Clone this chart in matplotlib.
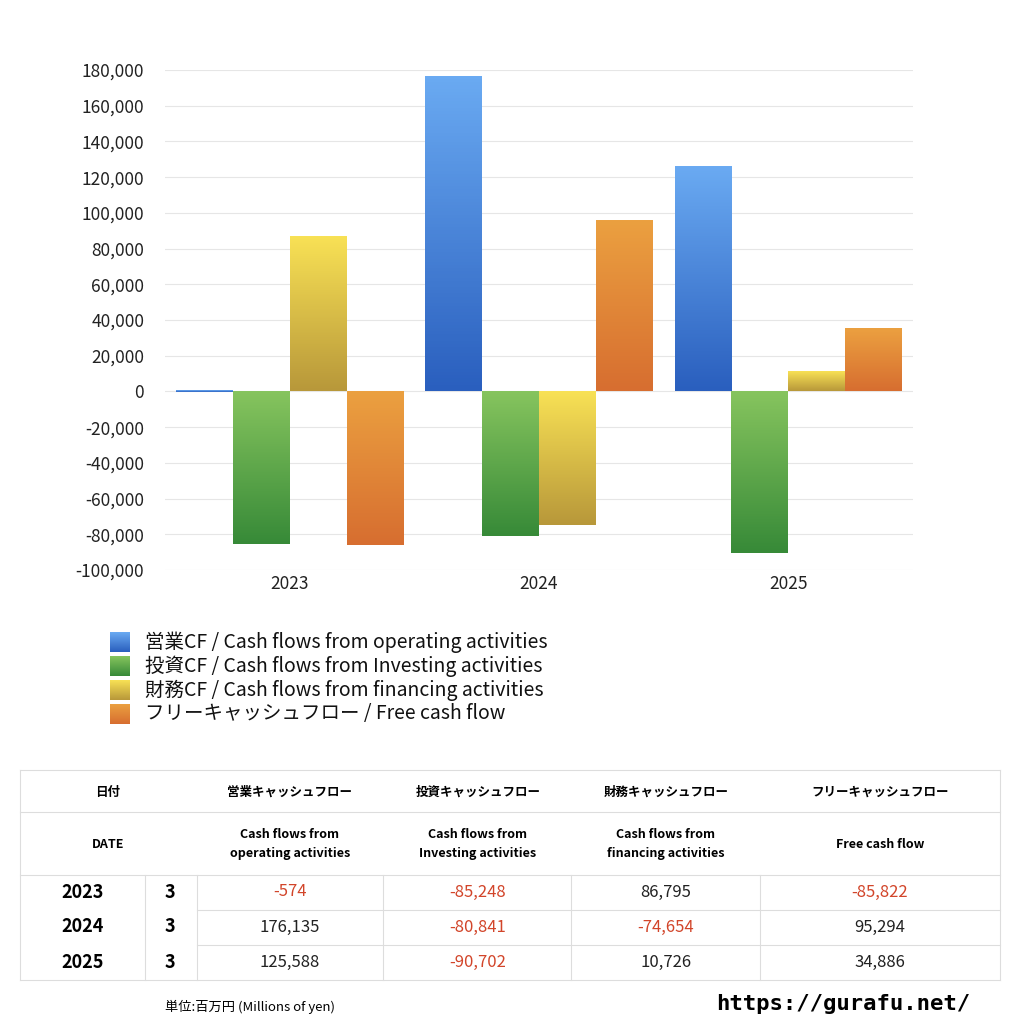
import numpy as np
import matplotlib.pyplot as plt
from matplotlib.colors import LinearSegmentedColormap

plt.rcParams['font.family'] = ['Noto Sans CJK JP', 'DejaVu Sans']

years = ['2023', '2024', '2025']
months = ['3', '3', '3']
operating = [-574, 176135, 125588]
investing = [-85248, -80841, -90702]
financing = [86795, -74654, 10726]
free_cf = [-85822, 95294, 34886]

series = [operating, investing, financing, free_cf]
legend_labels = ['営業CF / Cash flows from operating activities',
                 '投資CF / Cash flows from Investing activities',
                 '財務CF / Cash flows from financing activities',
                 'フリーキャッシュフロー / Free cash flow']
# (top colour, bottom colour)
grads = [('#6aaaf2', '#2a5fbe'), ('#86c45e', '#378a38'),
         ('#f8e155', '#b8983a'), ('#eba040', '#d76e30')]

head_jp = ['営業キャッシュフロー', '投資キャッシュフロー', '財務キャッシュフロー', 'フリーキャッシュフロー']
head_en = ['Cash flows from\noperating activities', 'Cash flows from\nInvesting activities',
           'Cash flows from\nfinancing activities', 'Free cash flow']

fig = plt.figure(figsize=(10.24, 10.24), dpi=100)
ax = fig.add_axes([165 / 1024, 1 - 570 / 1024, 748 / 1024, 500 / 1024])
ax.set_xlim(-0.5, 2.5)
ax.set_ylim(-100000, 180000)
ax.set_yticks(np.arange(-100000, 180001, 20000))
ax.yaxis.set_major_formatter(plt.FuncFormatter(lambda v, p: f'{int(v):,}'))
ax.set_xticks(range(3))
ax.set_xticklabels(years)
ax.tick_params(length=0, labelsize=12.5, colors='#222222')
ax.tick_params(axis='y', pad=15)
for s in ax.spines.values():
    s.set_visible(False)
ax.grid(axis='y', color='#e6e6e6', lw=0.8)
ax.set_axisbelow(True)

w = 0.228
for si, vals in enumerate(series):
    cmap = LinearSegmentedColormap.from_list('g', [grads[si][1], grads[si][0]])
    for gi, v in enumerate(vals):
        x0 = gi - 2 * w + si * w
        lo, hi = min(0, v), max(0, v)
        grad = np.linspace(0, 1, 100).reshape(-1, 1)
        ax.imshow(grad, cmap=cmap, origin='lower', aspect='auto',
                  extent=(x0, x0 + w, lo, hi), zorder=2)
ax.set_xlim(-0.5, 2.5)
ax.set_ylim(-100000, 180000)

# overlay in pixel coords
ov = fig.add_axes([0, 0, 1, 1])
ov.set_xlim(0, 1024)
ov.set_ylim(1024, 0)
ov.axis('off')
ov.patch.set_alpha(0)

for i, lab in enumerate(legend_labels):
    y = 642 + i * 24
    cmap = LinearSegmentedColormap.from_list('g', [grads[i][0], grads[i][1]])
    ov.imshow(np.linspace(0, 1, 50).reshape(-1, 1), cmap=cmap, aspect='auto',
              extent=(110, 130, y + 10, y - 10))
    ov.text(145, y, lab, fontsize=14, va='center', color='#111111')
ov.set_xlim(0, 1024)
ov.set_ylim(1024, 0)

# table
lc = '#dddddd'
for y in [770, 812, 875, 980]:
    ov.plot([20, 1000], [y, y], color=lc, lw=0.8)
for y in [910, 945]:
    ov.plot([197, 1000], [y, y], color=lc, lw=0.8)
for x in [20, 1000]:
    ov.plot([x, x], [770, 980], color=lc, lw=0.8)
for x in [145, 197, 383, 571, 760]:
    ov.plot([x, x], [875, 980], color=lc, lw=0.8)

cx = [290, 478, 666, 880]
ov.text(108, 792, '日付', fontsize=9, fontweight='bold', ha='center', va='center')
ov.text(108, 844, 'DATE', fontsize=9, fontweight='bold', ha='center', va='center')
for c, hj, he in zip(cx, head_jp, head_en):
    ov.text(c, 792, hj, fontsize=9, fontweight='bold', ha='center', va='center')
    ov.text(c, 844, he, fontsize=9, fontweight='bold', ha='center', va='center', linespacing=1.5)

for r in range(3):
    y = 892 + r * 35
    ov.text(83, y, years[r], fontsize=13, fontweight='bold', ha='center', va='center')
    ov.text(170, y, months[r], fontsize=13, fontweight='bold', ha='center', va='center')
    for c, vals in zip(cx, series):
        v = vals[r]
        ov.text(c, y, f'{v:,}', fontsize=12, ha='center', va='center',
                color='#d2452a' if v < 0 else '#222222')

ov.text(165, 1007, '単位:百万円 (Millions of yen)', fontsize=9.5, va='center')
ov.text(970, 1004, 'https://gurafu.net/', fontsize=16, fontweight='bold', ha='right',
        va='center', family='DejaVu Sans Mono')

fig.savefig('out.png', dpi=100)
